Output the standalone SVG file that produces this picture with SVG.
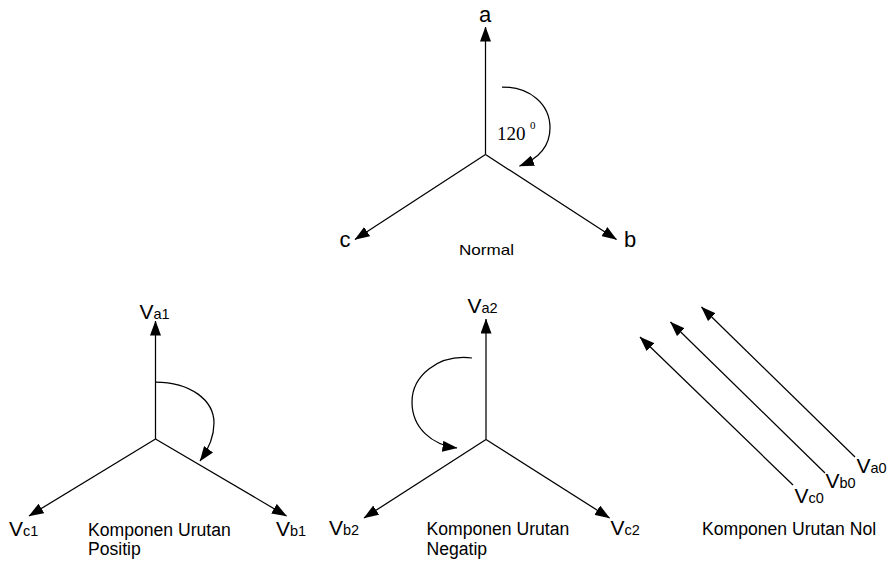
<svg xmlns="http://www.w3.org/2000/svg" width="892" height="563" viewBox="0 0 892 563">
  <style>
    .ln { fill: none; stroke: #000; stroke-width: 1.25; marker-end: url(#head); }
    .rot { fill: none; stroke: #000; stroke-width: 1.25; marker-end: url(#head); }
    .lbl { font-family: "Liberation Sans", Arial, sans-serif; fill: #000; }
    .big { font-size: 22px; }
    .v { font-size: 21px; }
    .sub { font-size: 14.5px; }
    .cap { font-size: 17.6px; }
    .deg { font-family: "Liberation Serif", "Times New Roman", serif; fill: #000; }
  </style>
  <defs>
    <marker id="head" markerUnits="userSpaceOnUse" viewBox="0 0 15 11" refX="14.5" refY="5.5" markerWidth="15" markerHeight="11" orient="auto">
      <path d="M0,0 L15,5.5 L0,11 z" fill="#000"/>
    </marker>
  </defs>
  <rect width="892" height="563" fill="#fff"/>

  <!-- phasor arrows and rotation arcs -->
  <g id="connectors">
    <!-- balanced set a, b, c -->
    <path class="ln" d="M485.5,154.5 L485.5,27"/>
    <path class="ln" d="M485.5,154.5 L616.5,239.5"/>
    <path class="ln" d="M485.5,154.5 L355,239.5"/>
    <path class="rot" d="M502,87 C530,87 550,104 550,128 C550,146 540,158 519.5,166"/>
    <!-- positive sequence -->
    <path class="ln" d="M155.5,439 L155.5,321"/>
    <path class="ln" d="M155.5,439 L286.5,516"/>
    <path class="ln" d="M155.5,439 L29,516"/>
    <path class="rot" d="M155.5,382 C190,382 214,400 214,423 C214,437 208,450 200,461"/>
    <!-- negative sequence -->
    <path class="ln" d="M486,439.5 L486,319"/>
    <path class="ln" d="M486,439.5 L364,518"/>
    <path class="ln" d="M486,439.5 L609.5,518"/>
    <path class="rot" d="M472,358 C438,354 412,376 412,402 C412,428 432,445 457,448"/>
    <!-- zero sequence -->
    <path class="ln" d="M855,457 L701.5,307"/>
    <path class="ln" d="M825,473 L670.5,322"/>
    <path class="ln" d="M793,485 L640,337"/>
  </g>

  <g id="normal">
    <text class="lbl big" x="479" y="22">a</text>
    <text class="lbl big" x="624" y="247">b</text>
    <text class="lbl big" x="339.5" y="247">c</text>
    <text class="deg" x="497" y="140" font-size="19">120</text>
    <text class="deg" x="530" y="129" font-size="11">0</text>
    <text class="lbl" x="459" y="255" font-size="15" textLength="55" lengthAdjust="spacingAndGlyphs">Normal</text>
  </g>

  <g id="positip">
    <text class="lbl v" x="139.5" y="319">V<tspan class="sub">a1</tspan></text>
    <text class="lbl v" x="9" y="536">V<tspan class="sub">c1</tspan></text>
    <text class="lbl v" x="276" y="536">V<tspan class="sub">b1</tspan></text>
    <text class="lbl cap" x="88" y="536">Komponen Urutan</text>
    <text class="lbl cap" x="88" y="555">Positip</text>
  </g>

  <g id="negatip">
    <text class="lbl v" x="467.5" y="313">V<tspan class="sub">a2</tspan></text>
    <text class="lbl v" x="329" y="535">V<tspan class="sub">b2</tspan></text>
    <text class="lbl v" x="610.5" y="535">V<tspan class="sub">c2</tspan></text>
    <text class="lbl cap" x="426.5" y="535">Komponen Urutan</text>
    <text class="lbl cap" x="426.5" y="555">Negatip</text>
  </g>

  <g id="nol">
    <text class="lbl v" x="856.5" y="473">V<tspan class="sub">a0</tspan></text>
    <text class="lbl v" x="825.5" y="488">V<tspan class="sub">b0</tspan></text>
    <text class="lbl v" x="794.5" y="503">V<tspan class="sub">c0</tspan></text>
    <text class="lbl cap" x="702" y="535">Komponen Urutan Nol</text>
  </g>
</svg>
